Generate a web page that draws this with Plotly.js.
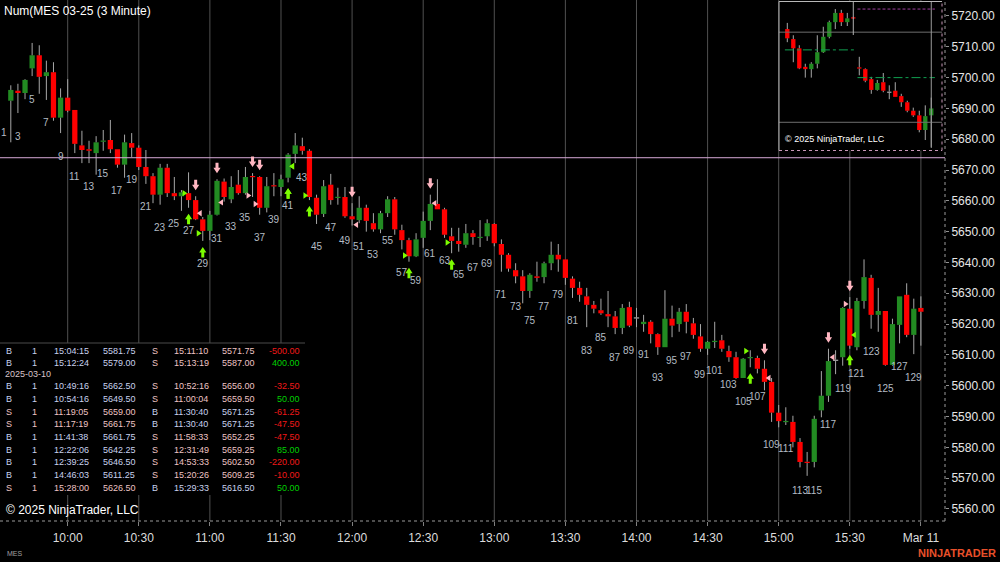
<!DOCTYPE html>
<html><head><meta charset="utf-8">
<script src="https://cdn.plot.ly/plotly-3.0.1.min.js"></script>
<style>html,body{margin:0;padding:0;background:#000;overflow:hidden}#chart{width:1000px;height:562px}</style>
</head><body><div id="chart"></div>
<script>
// ---------- DATA ----------
const firstBar = 2;           // bar 1 (09:33) is not drawn
const firstLabelPrice = 5689.5;
const open = [5692.5,5695.75,5695.0,5703.0,5707.25,5700.5,5701.75,5687.0,5693.5,5689.5,
5678.0,5676.75,5675.5,5679.25,5679.75,5676.75,5671.75,5678.75,5677.25,5671.0,
5668.0,5662.0,5670.75,5662.5,5661.5,5662.5,5660.25,5654.0,5650.25,5655.5,
5666.25,5660.5,5665.25,5662.5,5668.0,5667.75,5657.75,5665.0,5664.5,5667.5,
5675.25,5677.75,5676.25,5661.0,5655.75,5665.25,5661.0,5661.25,5655.0,5653.75,
5657.75,5652.75,5650.75,5656.0,5660.5,5650.5,5647.25,5642.0,5648.0,5653.5,
5659.0,5657.25,5648.5,5647.0,5645.75,5649.5,5648.0,5648.5,5652.5,5646.0,
5642.5,5637.5,5635.5,5630.75,5635.5,5635.25,5639.75,5642.5,5641.0,5634.75,
5631.75,5629.0,5626.25,5624.5,5623.25,5622.5,5618.75,5625.5,5622.0,5620.0,
5620.75,5616.75,5612.5,5621.75,5620.0,5624.0,5620.25,5616.0,5612.0,5614.25,
5614.75,5611.25,5609.25,5602.5,5609.0,5609.0,5605.5,5601.25,5591.25,5588.25,
5588.25,5581.75,5575.25,5575.25,5592.0,5596.75,5608.25,5609.25,5625.0,5612.5,
5627.5,5635.0,5623.0,5624.25,5606.75,5619.75,5629.5,5616.5,5625.25];
const high = [5697.5,5698.0,5699.5,5711.25,5710.5,5705.5,5705.0,5696.5,5699.5,5689.5,
5682.75,5679.5,5681.0,5683.0,5686.25,5676.75,5681.5,5682.0,5678.0,5676.5,
5669.0,5672.0,5672.0,5667.75,5663.5,5669.25,5661.5,5654.75,5656.75,5667.0,
5667.25,5668.0,5670.0,5671.0,5669.0,5668.0,5667.75,5669.0,5668.5,5675.5,
5682.0,5680.5,5676.75,5662.0,5666.75,5668.75,5664.25,5664.5,5659.25,5661.5,
5658.75,5656.0,5656.75,5661.5,5661.25,5652.25,5648.0,5649.5,5656.5,5662.0,
5667.0,5657.75,5651.25,5651.25,5652.5,5650.5,5653.75,5654.0,5652.75,5647.5,
5643.0,5639.75,5637.5,5636.5,5640.25,5640.25,5646.75,5646.0,5641.0,5635.5,
5633.75,5631.75,5627.5,5628.25,5630.75,5624.25,5626.5,5627.25,5625.25,5623.0,
5621.25,5617.0,5631.0,5626.0,5625.25,5626.5,5622.0,5620.0,5614.5,5620.75,
5616.5,5613.0,5611.0,5609.0,5611.5,5609.75,5608.25,5602.5,5593.75,5593.0,
5590.25,5583.0,5578.5,5590.25,5604.75,5612.0,5611.5,5625.5,5628.75,5628.5,
5641.0,5636.0,5631.75,5624.25,5621.75,5629.0,5633.25,5628.25,5629.0];
const low = [5679.0,5688.5,5693.0,5700.5,5694.75,5692.75,5686.0,5682.0,5688.75,5675.5,
5672.25,5672.25,5668.5,5676.25,5675.5,5670.75,5667.5,5674.25,5670.0,5665.5,
5659.25,5658.75,5661.25,5660.25,5656.75,5657.75,5653.75,5647.0,5647.25,5655.25,
5659.75,5659.25,5662.0,5662.0,5661.25,5655.5,5656.25,5661.5,5661.5,5666.0,
5672.25,5675.0,5660.25,5652.5,5654.75,5658.75,5658.75,5654.5,5652.0,5652.75,
5650.0,5650.0,5649.5,5654.75,5649.0,5644.25,5640.25,5641.75,5644.75,5650.5,
5657.25,5648.0,5643.0,5643.5,5644.75,5645.75,5645.0,5647.0,5645.25,5637.0,
5637.0,5633.25,5626.75,5628.5,5633.75,5633.25,5637.5,5637.0,5632.75,5628.5,
5627.25,5619.0,5623.5,5623.0,5619.0,5616.75,5616.75,5619.0,5619.0,5617.5,
5613.75,5610.0,5612.5,5615.75,5617.5,5617.0,5615.25,5611.0,5610.0,5612.25,
5611.0,5607.75,5602.25,5602.5,5606.0,5604.0,5598.5,5588.25,5586.5,5587.25,
5580.0,5573.5,5570.75,5573.5,5589.75,5594.75,5603.75,5606.5,5612.0,5611.5,
5625.0,5618.5,5617.5,5606.5,5606.5,5613.75,5615.75,5610.25,5613.0];
const close = [5696.0,5695.0,5699.25,5707.25,5700.25,5701.75,5687.0,5693.5,5689.25,5678.5,
5676.5,5676.25,5679.0,5679.5,5676.75,5671.75,5679.0,5677.25,5671.0,5668.0,
5662.0,5670.75,5662.5,5661.5,5662.75,5660.25,5654.0,5650.25,5655.5,5666.5,
5661.25,5664.5,5662.5,5667.75,5667.75,5657.75,5664.75,5664.75,5667.0,5675.0,
5678.0,5676.25,5661.25,5655.5,5664.75,5660.25,5661.25,5655.0,5654.0,5657.75,
5653.5,5650.75,5656.0,5660.5,5650.75,5647.25,5642.0,5647.5,5653.5,5659.0,
5657.25,5649.0,5647.0,5646.0,5649.5,5648.25,5648.25,5652.75,5646.25,5642.5,
5638.0,5635.5,5630.75,5636.0,5635.0,5639.75,5642.5,5641.0,5635.0,5631.75,
5629.5,5626.25,5625.0,5623.5,5622.5,5618.75,5625.25,5619.5,5622.0,5620.75,
5616.75,5612.5,5621.75,5619.5,5624.0,5620.75,5616.5,5612.0,5614.25,5614.5,
5612.0,5609.25,5602.5,5608.75,5609.25,5605.5,5601.25,5591.25,5588.5,5588.5,
5581.75,5575.25,5575.0,5589.25,5596.75,5608.0,5608.25,5625.25,5613.0,5627.5,
5635.25,5623.0,5624.25,5606.75,5620.0,5629.0,5616.5,5625.0,5624.0];

const tickBars = [10,20,30,40,50,60,70,80,90,100,110,120,130];
const tickLabels = ['10:00','10:30','11:00','11:30','12:00','12:30','13:00','13:30','14:00','14:30','15:00','15:30','Mar 11'];
const priceTicks = [5560,5570,5580,5590,5600,5610,5620,5630,5640,5650,5660,5670,5680,5690,5700,5710,5720];
const levelPrice = 5674.0;

// trades table
const prevDayRows = 2;
const tableDate = '2025-03-10';
const entrySide = ['B','B','B','B','S','S','B','B','B','B','S'];
const qty = [1,1,1,1,1,1,1,1,1,1,1];
const entryTime = ['15:04:15','15:12:24','10:49:16','10:54:16','11:19:05','11:17:19','11:41:38','12:22:06','12:39:25','14:46:03','15:28:00'];
const entryPrice = [5581.75,5579.00,5662.50,5649.50,5659.00,5661.75,5661.75,5642.25,5646.50,5611.25,5626.50];
const exitSide = ['S','S','S','S','B','B','S','S','S','S','B'];
const exitTime = ['15:11:10','15:13:19','10:52:16','11:00:04','11:30:40','11:30:40','11:58:33','12:31:49','14:53:33','15:20:26','15:29:33'];
const exitPrice = [5571.75,5587.00,5656.00,5659.50,5671.25,5671.25,5652.25,5659.25,5602.50,5609.25,5616.50];
const pnl = [-500.00,400.00,-32.50,50.00,-61.25,-47.50,-47.50,85.00,-220.00,-10.00,50.00];

// inset mini chart
const insetOpen = [5715.75,5712.5,5709.5,5703.5,5702.75,5704.5,5708.25,5713.25,5718.0,5721.0,5718.0,5719.5,5703.25,5702.75,5699.5,5696.0,5698.5,5695.25,5695.75,5694.0,5692.0,5689.25,5687.75,5683.0,5687.75];
const insetHigh = [5717.75,5713.75,5710.5,5704.5,5705.0,5713.75,5716.5,5718.5,5722.25,5722.0,5721.0,5719.75,5706.75,5703.0,5700.25,5699.25,5701.5,5697.5,5698.5,5694.75,5692.5,5690.25,5689.25,5691.0,5693.5];
const insetLow = [5711.5,5705.0,5702.75,5700.0,5700.0,5703.0,5708.0,5712.75,5715.75,5716.75,5716.75,5719.0,5700.75,5698.5,5694.75,5695.75,5695.25,5693.0,5693.75,5690.5,5688.75,5687.25,5682.25,5679.75,5677.5];
const insetClose = [5712.75,5709.5,5703.0,5702.75,5704.5,5708.25,5713.25,5718.0,5721.0,5718.0,5719.25,5719.25,5703.0,5699.0,5696.0,5698.25,5695.75,5695.25,5693.75,5692.0,5689.25,5687.75,5683.0,5687.5,5690.0];
const insetGreyLevels = [5714.75,5685.5];
const insetGreenLevels = [5709.0,5700.0];
const insetPurpleLevel = 5722.25;

// ---------- STYLE ----------
const FONT = 'Liberation Sans, Arial, sans-serif';
const UP = '#228b22', DOWN = '#ff0000', WICK = '#a8a8a8';
const BUYC = '#7cfc00', SELLC = '#ffb6c1';
const PW = 945, PH = 521;
const px = v => v / PW, py = v => 1 - v / PH;

function candles(xs, o, h, l, c, xaxis, width, minBody) {
  const col = [], base = [], hgt = [], wx = [], wy = [];
  for (let i = 0; i < xs.length; i++) {
    const top = Math.max(o[i], c[i]), bot = Math.min(o[i], c[i]);
    let b = bot, ht = top - bot;
    if (ht < minBody) { b = (top + bot) / 2 - minBody / 2; ht = minBody; }
    base.push(b); hgt.push(ht);
    col.push(c[i] > o[i] ? UP : (c[i] < o[i] ? DOWN : WICK));
    wx.push(xs[i], xs[i], null, xs[i], xs[i], null);
    wy.push(h[i], b + ht, null, b, l[i], null);
  }
  return [
    {type:'scatter', mode:'lines', x:wx, y:wy, xaxis:xaxis, yaxis:'y', line:{color:WICK, width:1}, hoverinfo:'skip', showlegend:false},
    {type:'bar', x:xs, y:hgt, base:base, width:width, marker:{color:col, line:{width:0}}, xaxis:xaxis, yaxis:'y', hoverinfo:'skip', showlegend:false}
  ];
}

const bars = open.map((_, i) => firstBar + i);
const insetX = insetOpen.map((_, i) => i + 1);
const traces = [
  ...candles(bars, open, high, low, close, 'x', 0.74, 0.4),
  ...candles(insetX, insetOpen, insetHigh, insetLow, insetClose, 'x2', 0.72, 0.4)
];

// ---------- SHAPES ----------
const shapes = [];
tickBars.forEach(b => shapes.push({type:'line', xref:'x', yref:'paper', x0:b, x1:b, y0:0, y1:1, line:{color:'#505050', width:1}, layer:'below'}));
// inset box
const ix0 = px(779), ix1 = px(942), iy0 = py(150.5), iy1 = py(1.5);
shapes.push({type:'rect', xref:'paper', yref:'paper', x0:ix0, x1:ix1, y0:iy0, y1:iy1, fillcolor:'#000', line:{width:0}, layer:'below'});
// table box
shapes.push({type:'rect', xref:'paper', yref:'paper', x0:0, x1:px(305), y0:py(495), y1:py(343), fillcolor:'#000', line:{width:0}, layer:'below'});
shapes.push({type:'line', xref:'paper', yref:'paper', x0:0, x1:px(305), y0:py(343), y1:py(343), line:{color:'#4a4a4a', width:1}, layer:'below'});
// inset internal lines
insetGreyLevels.forEach(v => shapes.push({type:'line', xref:'paper', yref:'y', x0:ix0, x1:ix1, y0:v, y1:v, line:{color:'#6e6e6e', width:1}, layer:'above'}));
shapes.push({type:'line', xref:'x2', yref:'y', x0:0.6, x1:12.5, y0:insetGreenLevels[0], y1:insetGreenLevels[0], line:{color:'#10a050', width:1, dash:'dashdot'}, layer:'above'});
shapes.push({type:'line', xref:'x2', yref:'y', x0:12.7, x1:25.6, y0:insetGreenLevels[1], y1:insetGreenLevels[1], line:{color:'#10a050', width:1, dash:'dashdot'}, layer:'above'});
shapes.push({type:'line', xref:'x2', yref:'y', x0:12.7, x1:25.6, y0:insetPurpleLevel, y1:insetPurpleLevel, line:{color:'#a040a0', width:1, dash:'3px,2px'}, layer:'above'});
shapes.push({type:'line', xref:'x2', yref:'paper', x0:12, x1:12, y0:py(35), y1:iy1, line:{color:'#b0b0b0', width:1}, layer:'above'});
shapes.push({type:'line', xref:'x2', yref:'paper', x0:25, x1:25, y0:py(148), y1:iy1, line:{color:'#9a9a9a', width:1}, layer:'above'});
// inset borders
shapes.push({type:'line', xref:'paper', yref:'paper', x0:ix0, x1:ix1, y0:iy1, y1:iy1, line:{color:'#b8b8b8', width:1}, layer:'above'});
shapes.push({type:'line', xref:'paper', yref:'paper', x0:ix0, x1:ix0, y0:iy0, y1:iy1, line:{color:'#b8b8b8', width:1}, layer:'above'});
shapes.push({type:'line', xref:'paper', yref:'paper', x0:ix0, x1:ix1, y0:iy0, y1:iy0, line:{color:'#c898b8', width:1, dash:'dot'}, layer:'above'});
shapes.push({type:'line', xref:'paper', yref:'paper', x0:ix1, x1:ix1, y0:iy0, y1:iy1, line:{color:'#c898b8', width:1, dash:'dot'}, layer:'above'});
// level line
shapes.push({type:'line', xref:'paper', yref:'y', x0:0, x1:1, y0:levelPrice, y1:levelPrice, line:{color:'#d8aad8', width:1}, layer:'above'});
// dotted axis lines
shapes.push({type:'line', xref:'paper', yref:'paper', x0:0, x1:1, y0:0, y1:0, line:{color:'#9a9a9a', width:1, dash:'dot'}, layer:'above'});
shapes.push({type:'line', xref:'paper', yref:'paper', x0:1, x1:1, y0:0, y1:1, line:{color:'#9a9a9a', width:1, dash:'dot'}, layer:'above'});

// executions -> arrows + triangles
function barOf(t) {
  const [H, M, S] = t.split(':').map(Number);
  return Math.ceil((H * 60 + M + S / 60 - 570) / 3);
}
const DOWN_ARROW = 'M0,6 L-3.6,11.5 L-1.5,11.5 L-1.5,16.5 L1.5,16.5 L1.5,11.5 L3.6,11.5 Z';
const UP_ARROW = 'M0,-6 L-3.6,-11.5 L-1.5,-11.5 L-1.5,-16.5 L1.5,-16.5 L1.5,-11.5 L3.6,-11.5 Z';
const ENTRY_TRI = 'M-6,3.2 L-6,-3.2 L-1.2,0 Z';
const EXIT_TRI = 'M6,3.2 L6,-3.2 L1.2,0 Z';
function execMarks(side, time, price, isEntry) {
  const b = barOf(time), i = b - firstBar;
  const buy = side === 'B';
  shapes.push({type:'path', xref:'x', yref:'y', xsizemode:'pixel', ysizemode:'pixel', xanchor:b,
    yanchor: buy ? low[i] : high[i], path: buy ? UP_ARROW : DOWN_ARROW,
    fillcolor: buy ? BUYC : SELLC, line:{width:0}, layer:'above'});
  shapes.push({type:'path', xref:'x', yref:'y', xsizemode:'pixel', ysizemode:'pixel', xanchor:b,
    yanchor: price, path: isEntry ? ENTRY_TRI : EXIT_TRI,
    fillcolor: buy ? BUYC : SELLC, line:{width:0}, layer:'above'});
}
for (let t = prevDayRows; t < entrySide.length; t++) {
  execMarks(entrySide[t], entryTime[t], entryPrice[t], true);
  execMarks(exitSide[t], exitTime[t], exitPrice[t], false);
}

// ---------- ANNOTATIONS ----------
const ann = [];
for (let k = 1; k <= firstBar + open.length - 1; k += 2) {
  const p = k >= firstBar ? low[k - firstBar] : firstLabelPrice;
  ann.push({x:k, y:p, xref:'x', yref:'y', text:String(k), showarrow:false, yshift:-23,
    xanchor:'center', yanchor:'middle', font:{family:FONT, size:10, color:'#b4bcc4'}});
}
const BCOL = '#c8d2ee', SCOL = '#eec4c4';
function tText(x, y, text, color, anchor) {
  ann.push({x:px(x), y:py(y), xref:'paper', yref:'paper', text:text, showarrow:false,
    xanchor:anchor || 'left', yanchor:'middle', font:{family:FONT, size:9, color:color}});
}
let rowY = 350.7;
for (let t = 0; t < entrySide.length; t++) {
  if (t === prevDayRows) { tText(3, rowY - 2.4, tableDate, '#d8c4c8'); rowY += 10.2; }
  const ec = entrySide[t] === 'B' ? BCOL : SCOL, xc = exitSide[t] === 'B' ? BCOL : SCOL;
  tText(9, rowY, entrySide[t], ec, 'center');
  tText(34, rowY, String(qty[t]), ec, 'center');
  tText(52, rowY, entryTime[t], ec);
  tText(101, rowY, entryPrice[t].toFixed(2), ec);
  tText(155, rowY, exitSide[t], xc, 'center');
  tText(172, rowY, exitTime[t], xc);
  tText(220, rowY, exitPrice[t].toFixed(2), xc);
  tText(302, rowY, pnl[t].toFixed(2), pnl[t] < 0 ? '#f01818' : '#00d000', 'right');
  rowY += 12.7;
}
ann.push({x:px(4), y:py(510), xref:'paper', yref:'paper', text:'© 2025 NinjaTrader, LLC', showarrow:false, xanchor:'left', yanchor:'middle', font:{family:FONT, size:12, color:'#ffffff'}});
ann.push({x:px(783), y:py(139), xref:'paper', yref:'paper', text:'© 2025 NinjaTrader, LLC', showarrow:false, xanchor:'left', yanchor:'middle', font:{family:FONT, size:9, color:'#ffffff'}});
ann.push({x:px(5), y:py(553), xref:'paper', yref:'paper', text:'MES', showarrow:false, xanchor:'left', yanchor:'middle', font:{family:FONT, size:7, color:'#a0a0a0'}});
ann.push({x:px(998), y:py(553), xref:'paper', yref:'paper', text:'<b>NINJATRADER</b>', showarrow:false, xanchor:'right', yanchor:'middle', font:{family:FONT, size:11, color:'#e8502a'}});

const layout = {
  width:1000, height:562,
  paper_bgcolor:'#000', plot_bgcolor:'rgba(0,0,0,0)',
  margin:{l:0, r:55, t:0, b:41, pad:0},
  showlegend:false, barmode:'overlay',
  title:{text:'Num(MES 03-25 (3 Minute)', x:0.004, xanchor:'left', y:1 - 11/562, yanchor:'middle', font:{family:FONT, size:12, color:'#ffffff'}},
  xaxis:{range:[0.4796, 133.39], tickvals:tickBars, ticktext:tickLabels, ticks:'outside', ticklen:4, tickcolor:'#808080', ticklabelstandoff:2,
    tickfont:{family:FONT, size:12, color:'#dcdcdc'}, showgrid:false, zeroline:false, showline:false, fixedrange:true},
  xaxis2:{domain:[px(779), px(942)], anchor:'y', range:[-0.383, 26.787], visible:false, showgrid:false, zeroline:false, fixedrange:true},
  yaxis:{range:[5556.09, 5725.19], side:'right', tickvals:priceTicks, tickformat:'.2f', ticks:'outside', ticklen:3, tickcolor:'#909090',
    tickfont:{family:FONT, size:12, color:'#e6e6e6'}, showgrid:false, zeroline:false, showline:false, fixedrange:true},
  shapes:shapes, annotations:ann
};
Plotly.newPlot('chart', traces, layout, {displayModeBar:false, staticPlot:true});
</script></body></html>
